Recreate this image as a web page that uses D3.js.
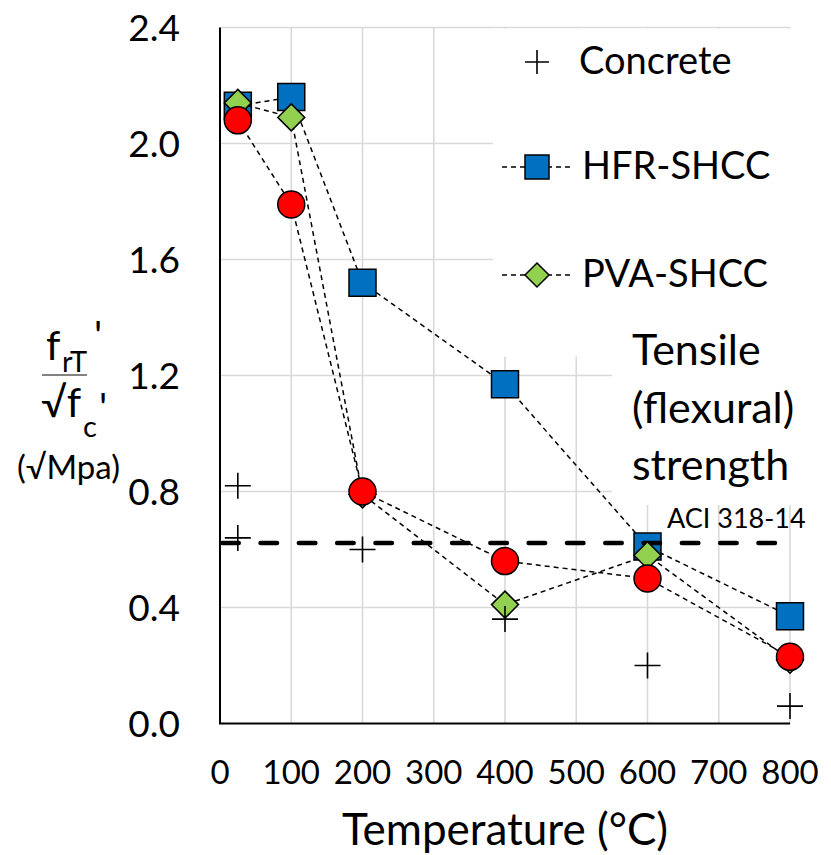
<!DOCTYPE html>
<meta charset="utf-8">
<html>
<head>
    <script src="https://d3js.org/d3.v7.min.js"></script>
    <style>
        body { margin: 0; background: #fff; }
        text { font-family: Lato, "Open Sans", sans-serif; fill: #000; }
    </style>
</head>
<body>
    <div id="chart"></div>
    <script>
        // data
        var temps = [25, 100, 200, 400, 600, 800];
        var hfrShcc = [2.13, 2.16, 1.52, 1.17, 0.61, 0.37];
        var pvaShcc = [2.14, 2.09, 0.79, 0.41, 0.58, 0.22];
        var redSeries = [2.08, 1.79, 0.80, 0.56, 0.50, 0.23];
        var concreteTemps = [25, 25, 200, 400, 600, 800];
        var concreteVals = [0.82, 0.64, 0.60, 0.36, 0.20, 0.06];
        var aciValue = 0.622;
        var xTicks = [0, 100, 200, 300, 400, 500, 600, 700, 800];
        var yTicks = [0, 0.4, 0.8, 1.2, 1.6, 2.0, 2.4];
        var legendNames = ["Concrete", "HFR-SHCC", "PVA-SHCC"];

        var W = 831, H = 855;
        var svg = d3.select("#chart").append("svg")
            .attr("width", W).attr("height", H);

        var x = d3.scaleLinear().domain([0, 800]).range([220, 790]);
        var y = d3.scaleLinear().domain([0, 2.4]).range([723.5, 27.5]);

        // gridlines
        var grid = svg.append("g").attr("stroke", "#d9d9d9").attr("stroke-width", 1.6);
        grid.selectAll(".gx").data(xTicks.slice(1)).enter().append("line")
            .attr("x1", d => x(d)).attr("x2", d => x(d))
            .attr("y1", y(0)).attr("y2", y(2.4));
        grid.selectAll(".gy").data(yTicks.slice(1)).enter().append("line")
            .attr("x1", x(0)).attr("x2", x(800))
            .attr("y1", d => y(d)).attr("y2", d => y(d));

        // white boxes behind legend and title
        svg.append("rect").attr("x", 493).attr("y", 28.5).attr("width", 338).attr("height", 328).attr("fill", "#fff");
        svg.append("rect").attr("x", 612).attr("y", 356).attr("width", 219).attr("height", 149).attr("fill", "#fff");

        // axes lines (no ticks)
        svg.append("line").attr("x1", x(0)).attr("x2", x(0)).attr("y1", y(2.4)).attr("y2", y(0))
            .attr("stroke", "#000").attr("stroke-width", 2);
        svg.append("line").attr("x1", x(0) - 1).attr("x2", x(800)).attr("y1", y(0)).attr("y2", y(0))
            .attr("stroke", "#000").attr("stroke-width", 2);

        // tick labels
        svg.append("g").selectAll("text").data(yTicks).enter().append("text")
            .attr("x", 180).attr("y", d => y(d) + 13)
            .attr("text-anchor", "end").style("font-size", "37px")
            .text(d => d.toFixed(1));
        svg.append("g").selectAll("text").data(xTicks).enter().append("text")
            .attr("x", d => x(d)).attr("y", 784)
            .attr("text-anchor", "middle").style("font-size", "33px")
            .text(d => d);

        // symbols
        var plusSym = { draw: function (ctx, size) { var r = Math.sqrt(size) / 2;
            ctx.moveTo(-r, 0); ctx.lineTo(r, 0); ctx.moveTo(0, -r); ctx.lineTo(0, r); } };
        var diamondSym = { draw: function (ctx, size) { var r = Math.sqrt(size) / 2;
            ctx.moveTo(0, -r); ctx.lineTo(r, 0); ctx.lineTo(0, r); ctx.lineTo(-r, 0); ctx.closePath(); } };

        var line = d3.line().x(d => x(d[0])).y(d => y(d[1]));

        function drawSeries(vals, type, size, color) {
            var pts = temps.map((t, i) => [t, vals[i]]);
            svg.append("path").datum(pts).attr("d", line)
                .attr("fill", "none").attr("stroke", "#000")
                .attr("stroke-width", 1.5).attr("stroke-dasharray", "5,4");
            svg.append("g").selectAll("path").data(pts).enter().append("path")
                .attr("transform", d => "translate(" + x(d[0]) + "," + y(d[1]) + ")")
                .attr("d", d3.symbol().type(type).size(size))
                .attr("fill", color).attr("stroke", "#000").attr("stroke-width", 1.5);
        }

        drawSeries(hfrShcc, d3.symbolSquare, 27 * 27, "#0070C0");

        // ACI 318-14 line
        svg.append("line").attr("x1", x(0)).attr("x2", x(800))
            .attr("y1", y(aciValue)).attr("y2", y(aciValue))
            .attr("stroke", "#000").attr("stroke-width", 4.5)
            .attr("stroke-linecap", "round")
            .attr("stroke-dasharray", "16.5,21.8").attr("stroke-dashoffset", -2.25);
        svg.append("text").attr("x", 667).attr("y", 528)
            .style("font-size", "27px").text("ACI 318-14");

        drawSeries(pvaShcc, diamondSym, 27 * 27, "#92D050");
        drawSeries(redSeries, d3.symbolCircle, Math.PI * 13.5 * 13.5, "#FF0000");

        // concrete plus markers
        svg.append("g").selectAll("path").data(concreteTemps.map((t, i) => [t, concreteVals[i]]))
            .enter().append("path")
            .attr("transform", d => "translate(" + x(d[0]) + "," + y(d[1]) + ")")
            .attr("d", d3.symbol().type(plusSym).size(26 * 26))
            .attr("fill", "none").attr("stroke", "#000").attr("stroke-width", 1.6);

        // legend
        var legY = [62, 167, 275];
        var lg = svg.append("g");
        lg.append("path").attr("transform", "translate(537," + legY[0] + ")")
            .attr("d", d3.symbol().type(plusSym).size(24 * 24))
            .attr("fill", "none").attr("stroke", "#000").attr("stroke-width", 1.6);
        [[d3.symbolSquare, "#0070C0"], [diamondSym, "#92D050"]].forEach(function (s, i) {
            var yy = legY[i + 1];
            lg.append("line").attr("x1", 502).attr("x2", 572).attr("y1", yy).attr("y2", yy)
                .attr("stroke", "#000").attr("stroke-width", 1.5).attr("stroke-dasharray", "5,4");
            lg.append("path").attr("transform", "translate(537," + yy + ")")
                .attr("d", d3.symbol().type(s[0]).size(24 * 24))
                .attr("fill", s[1]).attr("stroke", "#000").attr("stroke-width", 1.5);
        });
        lg.selectAll("text").data(legendNames).enter().append("text")
            .attr("x", (d, i) => i === 0 ? 579 : 582).attr("y", (d, i) => legY[i] + 12)
            .style("font-size", "38px").text(d => d);

        // title text
        var title = ["Tensile", "(flexural)", "strength"];
        svg.append("g").selectAll("text").data(title).enter().append("text")
            .attr("x", 632).attr("y", (d, i) => 365 + i * 57.5)
            .style("font-size", "43px").text(d => d);

        // axis titles
        svg.append("text").attr("x", 505).attr("y", 845).attr("text-anchor", "middle")
            .style("font-size", "44px").text("Temperature (°C)");

        var yl = svg.append("g");
        yl.append("text").attr("x", 46).attr("y", 360).style("font-size", "41px").text("f");
        yl.append("text").attr("x", 62).attr("y", 372).style("font-size", "29px").text("rT");
        yl.append("text").attr("x", 94).attr("y", 350).style("font-size", "40px").text("'");
        yl.append("line").attr("x1", 42).attr("x2", 87).attr("y1", 375).attr("y2", 375)
            .attr("stroke", "#595959").attr("stroke-width", 1.5);
        yl.append("text").attr("x", 41).attr("y", 417).style("font-size", "41px").text("√f");
        yl.append("text").attr("x", 83).attr("y", 437).style("font-size", "29px").text("c");
        yl.append("text").attr("x", 99).attr("y", 422).style("font-size", "40px").text("'");
        yl.append("text").attr("x", 17).attr("y", 479).style("font-size", "33px").text("(√Mpa)");
    </script>
</body>
</html>
